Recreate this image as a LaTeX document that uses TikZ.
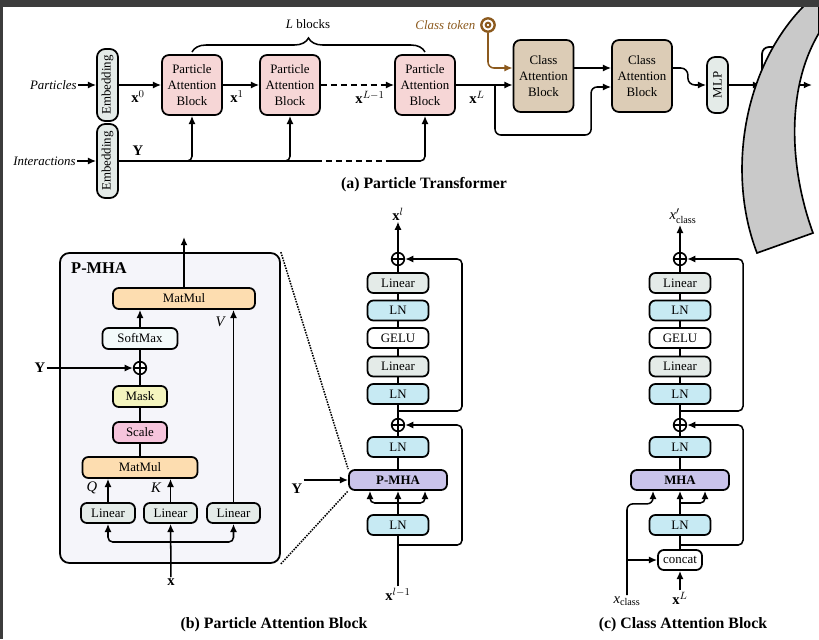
\documentclass[tikz,border=0pt]{standalone}
\usepackage{fontspec}
\setmainfont{Liberation Serif}
\usetikzlibrary{arrows.meta,calc,positioning,decorations.pathreplacing}

\definecolor{pabfill}{HTML}{F6D6D6}
\definecolor{cabfill}{HTML}{DCCCB6}
\definecolor{linfill}{HTML}{E4EBE8}
\definecolor{lnfill}{HTML}{C7EAF3}
\definecolor{mhafill}{HTML}{CAC4EA}
\definecolor{mmfill}{HTML}{FDDDB0}
\definecolor{maskfill}{HTML}{F4F4BE}
\definecolor{sclfill}{HTML}{F6C4DC}
\definecolor{smfill}{HTML}{F3FAFA}
\definecolor{pboxfill}{HTML}{F5F5FA}
\definecolor{tokcol}{HTML}{8C5A1E}
\definecolor{framecol}{HTML}{3C3C3C}
\definecolor{arcfill}{HTML}{C9C9C9}

\newcommand{\bfont}{\fontsize{11}{14}\selectfont}
\newcommand{\lfont}{\fontsize{12.5}{14}\selectfont}
\newcommand{\capfont}{\fontsize{13.5}{16}\selectfont\bfseries}
\newcommand{\bx}{\textbf{x}}

\tikzset{
  wire/.style={line width=1.3pt},
  arr/.style={wire,-{Latex[length=7pt,width=6pt]}},
  blk/.style={draw,line width=1.5pt,rounded corners=5pt,inner sep=0pt,align=center,font=\bfont},
  pabbox/.style={blk,fill=pabfill,minimum width=1.8cm,minimum height=1.8cm,rounded corners=6pt},
  cabbox/.style={blk,fill=cabfill,minimum width=1.8cm,minimum height=2.16cm,rounded corners=6pt},
  embbox/.style={blk,fill=linfill,rotate=90,minimum width=2.16cm,minimum height=0.63cm,rounded corners=7pt},
  colbox/.style={blk,minimum width=1.83cm,minimum height=0.6cm},
  lnbox/.style={colbox,fill=lnfill},
  linbox/.style={colbox,fill=linfill},
  gelubox/.style={colbox,fill=white},
  mhabox/.style={blk,fill=mhafill,minimum width=2.94cm,minimum height=0.6cm,font=\bfont\bfseries},
  pbbox/.style={blk,minimum height=0.63cm},
  addnode/.style={circle,draw,fill=white,line width=1.4pt,minimum size=0.38cm,inner sep=0pt,
    path picture={\draw[line width=1.4pt] (path picture bounding box.north) -- (path picture bounding box.south)
      (path picture bounding box.west) -- (path picture bounding box.east);}},
  lab/.style={inner sep=1pt,font=\lfont},
  dots/.style={line width=1.3pt,densely dotted}
}

\begin{document}
\begin{tikzpicture}[x=0.03cm,y=-0.03cm]
\useasboundingbox (0,0) rectangle (819,639);
\fill[white] (0,0) rectangle (819,639);

% (a) particle transformer
\node[embbox] (emb1) at (107.5,85) {Embedding};
\node[embbox,minimum width=2.22cm] (emb2) at (107.5,161) {Embedding};
\node[lab,font=\bfont\itshape,anchor=east] (partlab) at (78,85) {Particles};
\node[lab,font=\bfont\itshape,anchor=east] (intlab) at (77,161) {Interactions};
\draw[arr] (partlab) -- (emb1);
\draw[arr] (intlab) -- (emb2);

\node[pabbox] (pab1) at (192,85) {Particle\\Attention\\Block};
\node[pabbox] (pab2) at (290,85) {Particle\\Attention\\Block};
\node[pabbox] (pab3) at (425,85) {Particle\\Attention\\Block};
\node[cabbox] (cab1) at (543.5,76) {Class\\Attention\\Block};
\node[cabbox] (cab2) at (642,76) {Class\\Attention\\Block};
\node[embbox,minimum width=1.68cm] (mlp) at (717.5,85) {MLP};
\node[blk,minimum width=0.84cm,minimum height=2.28cm,rounded corners=6pt] (hid) at (776,85) {};
\coordinate (outr) at (812,85);

\draw[arr] (emb1) -- (pab1);
\draw[arr] (pab1) -- (pab2);
\draw[arr,dash pattern=on 5pt off 3.5pt] (pab2) -- (pab3);
\node[lab] (lx0) at (138,97) {$\bx^0$};
\node[lab] (lx1) at (237,97) {$\bx^1$};
\node[lab] (lxl1) at (370,97) {$\bx^{L-1}$};
\node[lab] (lxL) at (477,97) {$\bx^L$};
\node[lab] (ytop) at (138,151) {\textbf{Y}};

\coordinate (ydash1) at (316,161);
\coordinate (ydash2) at (386,161);
\draw[arr,rounded corners=4pt] (emb2.south) -| (pab1.south);
\draw[arr,rounded corners=4pt] (emb2.south) -| (pab2.south);
\draw[wire] (emb2.south) -- (ydash1);
\draw[wire,dash pattern=on 5pt off 3.5pt] (ydash1) -- (ydash2);
\draw[arr,rounded corners=4pt] (ydash2) -| (pab3.south);

\node[lab,font=\bfont] (lblk) at (308,24) {\textit{L} blocks};
\draw[wire,decorate,decoration={brace,amplitude=0.42cm}] (192,52) -- (425,52);

\node[circle,draw=tokcol,line width=2pt,minimum size=0.4cm,inner sep=0pt] (tok) at (488,25) {};
\draw[tokcol,line width=1.7pt] (tok) circle (0.07cm);
\node[lab,font=\bfont\itshape,text=tokcol,left=3pt of tok] (toklab) {Class token};
\draw[arr,tokcol,rounded corners=5pt] (tok.south) |- ($(cab1.west)+(0,-8)$);

\coordinate (xlb) at (495,85);
\draw[arr] (pab3.east) -- (pab3.east -| cab1.west);
\draw[arr,rounded corners=5pt] (xlb) -- ++(0,50) -| ($(cab2.west)+(-20,11)$) -- ($(cab2.west)+(0,11)$);
\draw[arr] ($(cab1.east)+(0,-8)$) -- ($(cab2.west)+(0,-8)$);
\draw[arr,rounded corners=6pt] ($(cab2.east)+(0,-8)$) -- ++(15,0) |- (mlp.north);
\draw[arr] (mlp.south) -- (hid.west);
\draw[arr] (hid.east) -- (outr);

\node[font=\capfont] (capa) at (424,185) {(a) Particle Transformer};

% (b) particle attention block, P-MHA detail
\node[draw,fill=pboxfill,line width=1.5pt,rounded corners=8pt,minimum width=6.6cm,minimum height=9.3cm] (pbox) at (170,408) {};
\node[font=\fontsize{14}{16}\selectfont\bfseries,anchor=west,inner sep=0pt] (ptitle) at (71,268) {P-MHA};
\node[pbbox,fill=mmfill,minimum width=4.26cm] (mm2) at (184,298.5) {MatMul};
\node[pbbox,fill=smfill,minimum width=2.25cm] (smax) at (140,338.5) {SoftMax};
\node[addnode] (adda) at (140,368) {};
\node[pbbox,fill=maskfill,minimum width=1.62cm] (mask) at (140,396.5) {Mask};
\node[pbbox,fill=sclfill,minimum width=1.62cm] (sclb) at (140,432.5) {Scale};
\node[pbbox,fill=mmfill,minimum width=3.45cm] (mm1) at (140,467.5) {MatMul};
\node[pbbox,fill=linfill,minimum width=1.62cm,minimum height=0.6cm] (lin1) at (108,513) {Linear};
\node[pbbox,fill=linfill,minimum width=1.59cm,minimum height=0.6cm] (lin2) at (170.5,513) {Linear};
\node[pbbox,fill=linfill,minimum width=1.59cm,minimum height=0.6cm] (lin3) at (233.5,513) {Linear};

\draw[arr] (lin1) -- (lin1 |- mm1.south);
\draw[arr] (lin2) -- (lin2 |- mm1.south);
\draw[arr] (lin3) -- (lin3 |- mm2.south);
\node[lab,font=\lfont\itshape] (lq) at (92,488) {Q};
\node[lab,font=\lfont\itshape] (lk) at (156,488) {K};
\node[lab,font=\lfont\itshape] (lv) at (220,322) {V};
\draw[wire] (mm1) -- (sclb);
\draw[wire] (sclb) -- (mask);
\draw[wire] (mask) -- (adda);
\draw[wire] (adda) -- (smax);
\draw[arr] (smax) -- (smax |- mm2.south);
\node[lab] (ya) at (40,368) {\textbf{Y}};
\draw[arr] (ya) -- (adda);
\coordinate (pout) at (184,237);
\draw[arr] (mm2) -- (pout);
\node[lab] (xa) at (171,582) {\bx};
\coordinate (xsplit) at (171,542);
\draw[arr] (xa) -- (lin2);
\draw[arr,rounded corners=4pt] (xsplit) -| (lin1);
\draw[arr,rounded corners=4pt] (xsplit) -| (lin3);

% (b) block column
\node[lab] (xlt) at (398,214) {$\bx^{l}$};
\node[addnode] (addb1) at (398,259) {};
\node[linbox] (linb2) at (398,283) {Linear};
\node[lnbox] (lnb3) at (398,310.5) {LN};
\node[gelubox] (gelub) at (398,338) {GELU};
\node[linbox] (linb1) at (398,366.5) {Linear};
\node[lnbox] (lnb2) at (398,394) {LN};
\node[addnode] (addb2) at (398,425) {};
\node[lnbox] (lnb1) at (398,447) {LN};
\node[mhabox] (pmha) at (398,480) {P-MHA};
\node[lnbox] (lnb0) at (398,525) {LN};
\node[lab] (xlb1) at (398,594) {$\bx^{l-1}$};

\draw[arr] (addb1) -- (xlt);
\draw[wire] (linb2) -- (addb1);
\draw[wire] (lnb3) -- (linb2);
\draw[wire] (gelub) -- (lnb3);
\draw[wire] (linb1) -- (gelub);
\draw[wire] (lnb2) -- (linb1);
\draw[wire] (addb2) -- (lnb2);
\draw[wire] (lnb1) -- (addb2);
\draw[wire] (pmha) -- (lnb1);
\draw[arr] (lnb0) -- (pmha);
\draw[wire] (xlb1) -- (lnb0);
\coordinate (sb) at (398,503);
\draw[arr,rounded corners=4pt] (sb) -| ($(pmha.south)+(-28,0)$);
\draw[arr,rounded corners=4pt] (sb) -| ($(pmha.south)+(27,0)$);
\coordinate (rb1) at (398,545);
\coordinate (rb2) at (398,411);
\draw[arr,rounded corners=4pt] (rb1) -- ++(64,0) |- (addb2);
\draw[arr,rounded corners=4pt] (rb2) -- ++(64,0) |- (addb1);
\node[lab] (yb) at (297,489) {\textbf{Y}};
\draw[arr] (yb.east |- pmha.west) -- (pmha.west);
\draw[dots] (pbox.north east) -- (pmha.north west);
\draw[dots] (pbox.south east) -- (pmha.south west);

\node[font=\capfont] (capb) at (274,625) {(b) Particle Attention Block};

% (c) class attention block
\node[lab] (xct) at (683,216) {$\textit{x}'_{\mathrm{class}}$};
\node[addnode] (addc1) at (680,259) {};
\node[linbox] (linc2) at (680,283) {Linear};
\node[lnbox] (lnc3) at (680,310.5) {LN};
\node[gelubox] (geluc) at (680,338) {GELU};
\node[linbox] (linc1) at (680,366.5) {Linear};
\node[lnbox] (lnc2) at (680,394) {LN};
\node[addnode] (addc2) at (680,425) {};
\node[lnbox] (lnc1) at (680,447) {LN};
\node[mhabox] (mha) at (680,480) {MHA};
\node[lnbox] (lnc0) at (680,525) {LN};
\node[blk,fill=white,minimum width=1.32cm,minimum height=0.6cm] (cat) at (680,560) {concat};
\node[lab] (xLc) at (680,598) {$\bx^L$};
\node[lab] (xcb) at (627,601) {$\textit{x}_{\mathrm{class}}$};

\draw[arr] (addc1) -- (addc1 |- xct.south);
\draw[wire] (linc2) -- (addc1);
\draw[wire] (lnc3) -- (linc2);
\draw[wire] (geluc) -- (lnc3);
\draw[wire] (linc1) -- (geluc);
\draw[wire] (lnc2) -- (linc1);
\draw[wire] (addc2) -- (lnc2);
\draw[wire] (lnc1) -- (addc2);
\draw[wire] (mha) -- (lnc1);
\draw[arr] (lnc0) -- (mha);
\draw[wire] (cat) -- (lnc0);
\draw[arr] (xLc) -- (cat);
\coordinate (sc) at (680,503);
\draw[arr,rounded corners=4pt] (sc) -| ($(mha.south)+(25,0)$);
\draw[arr,rounded corners=5pt] (xcb.north) |- ($(mha.south)+(-27,13)$) -- ($(mha.south)+(-27,0)$);
\draw[arr] (xcb.north |- cat.west) -- (cat.west);
\coordinate (rc1) at (680,545);
\coordinate (rc2) at (680,411);
\draw[arr,rounded corners=4pt] (rc1) -- ++(63,0) |- (addc2);
\draw[arr,rounded corners=4pt] (rc2) -- ++(63,0) |- (addc1);

\node[font=\capfont] (capc) at (683,625) {(c) Class Attention Block};

% overlay and frame
\draw[fill=arcfill,line width=1.4pt] (810,0) .. controls (745,60) and (725,170) .. (757,253)
  -- (813,233) .. controls (790,170) and (785,90) .. (819,33) -- (819,0) -- cycle;
\fill[framecol] (0,0) rectangle (819,7);
\fill[framecol] (0,0) rectangle (2.5,639);
\end{tikzpicture}
\end{document}
